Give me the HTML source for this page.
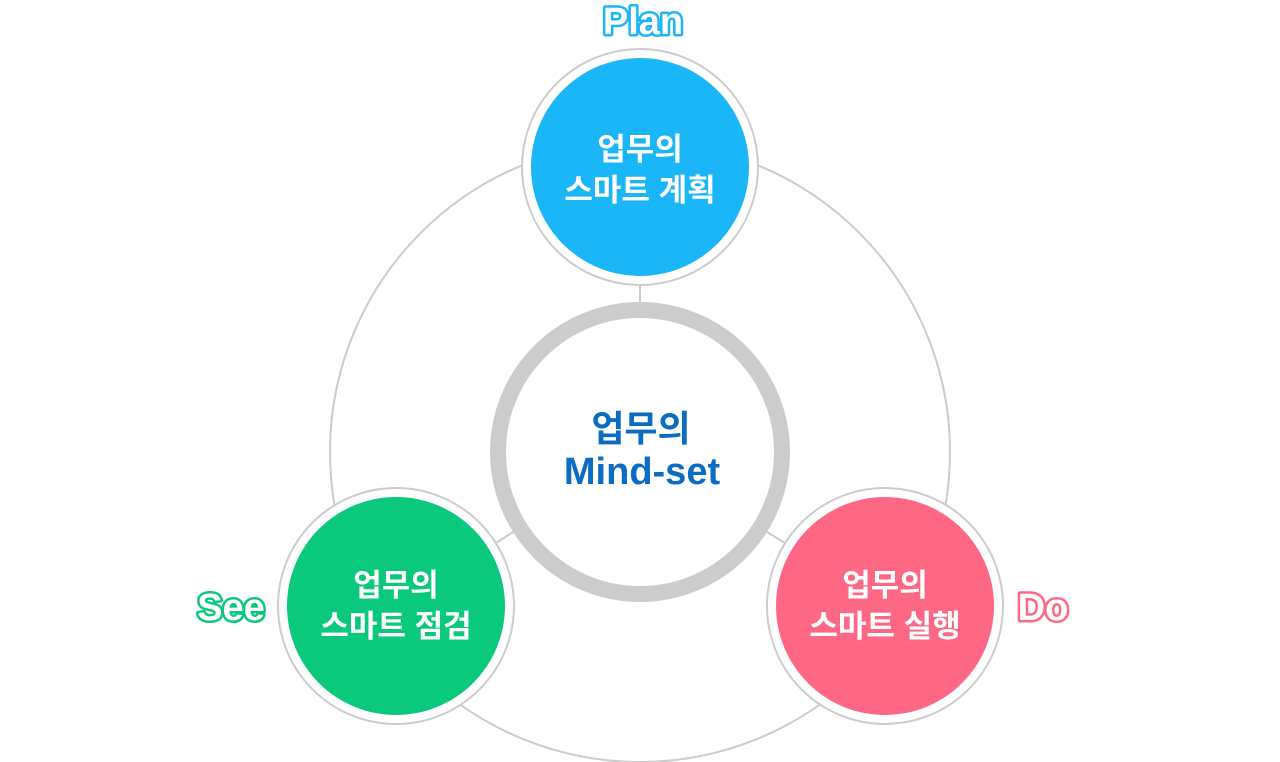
<!DOCTYPE html>
<html><head><meta charset="utf-8"><style>
html,body{margin:0;padding:0;background:#fff;}
svg{display:block;}
text{font-family:"Liberation Sans","Noto Sans CJK KR",sans-serif;font-weight:bold;}
</style></head><body>
<svg width="1280" height="762" viewBox="0 0 1280 762">
<circle cx="640" cy="452" r="310" fill="none" stroke="#cccccc" stroke-width="2"/>
<line x1="640" y1="167" x2="640" y2="452" stroke="#cccccc" stroke-width="2"/>
<line x1="396" y1="606" x2="640" y2="452" stroke="#cccccc" stroke-width="2"/>
<line x1="885" y1="606" x2="640" y2="452" stroke="#cccccc" stroke-width="2"/>

<circle cx="640" cy="167" r="118" fill="#fff" stroke="#cccccc" stroke-width="2"/>
<circle cx="640" cy="167" r="109" fill="#1ab6f8"/>
<circle cx="396" cy="606" r="118" fill="#fff" stroke="#cccccc" stroke-width="2"/>
<circle cx="396" cy="606" r="109" fill="#0ac97c"/>
<circle cx="885" cy="606" r="118" fill="#fff" stroke="#cccccc" stroke-width="2"/>
<circle cx="885" cy="606" r="109" fill="#ff6884"/>

<circle cx="640" cy="452" r="142" fill="#fff" stroke="#cccccc" stroke-width="16"/>

<g fill="#fff" font-size="31" text-anchor="middle">
<text x="640" y="160">업무의</text><text x="640" y="201">스마트 계획</text>
<text x="396" y="596">업무의</text><text x="396" y="637">스마트 점검</text>
<text x="885" y="596">업무의</text><text x="885" y="637">스마트 실행</text>
</g>
<g fill="#0a6cc2" font-size="36" text-anchor="middle">
<text x="641" y="441">업무의</text><text x="642" y="484" font-size="38">Mind-set</text>
</g>
<g font-size="38" stroke-width="5" fill="#fff" paint-order="stroke" stroke-linejoin="round">
<text x="643" y="34" text-anchor="middle" stroke="#1ab6f8">Plan</text>
<text x="231" y="620" text-anchor="middle" stroke="#0ac97c">See</text>
<text x="1043" y="620" text-anchor="middle" stroke="#ff6884">Do</text>
</g>
</svg>
</body></html>
